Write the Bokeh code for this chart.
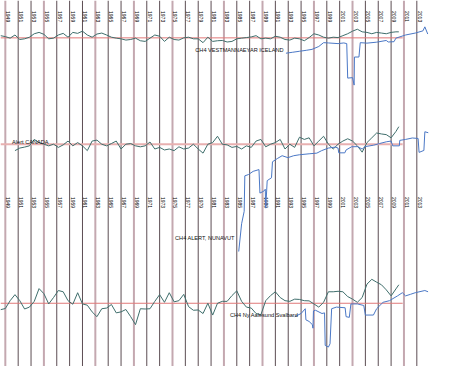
import math
from bokeh.plotting import figure
from bokeh.models import Range1d
from bokeh.core.properties import value
from bokeh.embed import file_html
from bokeh.resources import INLINE

# ---------------- data ----------------
grid_years = list(range(1949, 2014, 2))
light_years = [1949, 1955, 1963, 1969, 1975, 1983, 1989, 1997, 2003, 2011]
year_labels = [str(y) for y in grid_years]

# common sampling of the smoothed anomaly curves (decimal years)
teal_years = [1948.25, 1949.00, 1949.75, 1950.50, 1951.25, 1952.00, 1952.75, 1953.50, 1954.25, 1955.00,
              1955.75, 1956.50, 1957.25, 1958.00, 1958.75, 1959.50, 1960.25, 1961.00, 1961.75, 1962.50,
              1963.25, 1964.00, 1964.75, 1965.50, 1966.25, 1967.00, 1967.75, 1968.50, 1969.25, 1970.00,
              1970.75, 1971.50, 1972.25, 1973.00, 1973.75, 1974.50, 1975.25, 1976.00, 1976.75, 1977.50,
              1978.25, 1979.00, 1979.75, 1980.50, 1981.25, 1982.00, 1982.75, 1983.50, 1984.25, 1985.00,
              1985.75, 1986.50, 1987.25, 1988.00, 1988.75, 1989.50, 1990.25, 1991.00, 1991.75, 1992.50,
              1993.25, 1994.00, 1994.75, 1995.50, 1996.25, 1997.00, 1997.75, 1998.50, 1999.25, 2000.00,
              2000.75, 2001.50, 2002.25, 2003.00, 2003.75, 2004.50, 2005.25, 2006.00, 2006.75, 2007.50,
              2008.25, 2009.00, 2009.75, 2010.20]

iceland_anom = [2.3, 1.3, -0.3, 3, -1.7, -1, 0.7, 4.3, 5.7, 3.7,
                -1, -0.3, 3, 4.7, 0.7, 5.7, 4.7, 7, 3, 0.7,
                4, 5, 3, 0.7, -0.3, -1, -2.3, -1.7, -0.3, -3,
                -3.7, -0.3, 3, 1.7, -3.7, 0.7, -1.7, -2.3, 0, 0.7,
                -1, -1, -5, 0.7, -3.7, -3, -2.7, -4.3, -3.7, -1,
                -0.3, 0.3, 1, 2.3, -1, -0.3, -1, 1.7, 0.7, -1.7,
                -2.3, -0.3, -1, -3, 0.3, 4.3, 3, 0.7, -0.3, 0.7,
                0.3, 2.3, 4.3, 7, 9, 6.3, 5.7, 4.3, 5.7, 5,
                4.3, 5.7, 6.3, 6.3]

nan = float("nan")
alert_anom = [nan, nan, nan, -6.7, -4, -3, -1.7, 5, 1.7, 0,
              -1.7, 0, -3.3, -0.7, 3.3, -1.7, 1.7, -1.7, -6.7, 3.3,
              4.3, 0, -1.7, 0.7, 3.3, -5, 0, 0.7, -1.7, -2.7,
              -1.7, 2.3, -5, -3.3, -6, -5, -6.7, -2.7, -5, -4,
              0, -5, -9.3, 0, 1.7, 8.3, 0, -0.7, -3.3, -2.3,
              -5, -1.7, -3.3, 3.3, 5, -2.7, 0, 1.7, 5, -5,
              0, -3.3, 7.3, 5, 6.7, -1.7, 3.3, 8.3, 0, -5,
              0, 3.3, 5.7, 3.3, -1.7, -8.3, 1.7, 6.7, 11.7, 10.7,
              10, 6.7, 13.3, 18.3]

svalbard_anom = [-6.7, -5.5, 2.7, 9, 2.7, -6, -4, 2, 15.3, 10,
                 -0.7, 6, 13.3, 12, 2.7, -1, 11, -0.7, -2, -9,
                 -14, -5.7, -5, -1.3, -10, -9, -6.5, -14, -22.3, -5.7,
                 -6, -5.7, 2, 9, 1, 11, 1.5, 2.7, 9.3, -3.5,
                 -7.3, -7, -10.7, 0, -12.3, 0, 2, 2, 8, 13,
                 2, -4, -5, -10.7, -12, 2.7, 8, 12, 6, 2.7,
                 2, 4.3, 4, 2.7, 2.5, -0.7, -4, 1, 12, 12,
                 12.5, 12, 7, 4.3, 1, 6, 20, 25, 22, 19.3,
                 14, 7.7, 15, 19.3]

# CH4 station records (same arbitrary vertical units)
ch4_iceland_years = [1992.65, 1993.70, 1994.75, 1995.80, 1996.70, 1997.75, 1998.50, 1999.25, 2000.75, 2001.65,
                     2002.10, 2002.25, 2003.00, 2003.25, 2003.30, 2004.00, 2004.20, 2005.25, 2006.75, 2008.25,
                     2008.55, 2009.45, 2009.75, 2011.25, 2012.75, 2013.95, 2014.25, 2014.70]
ch4_iceland = [-16, -15, -14, -13, -12, -9, -5, -5.3, -6, -5.3,
               -6, -42, -41.5, -49.3, -20, -20, -5, -5.5, -4.5, -2.7,
               -4.3, -4, -0.3, 3, 5, 7.3, 11.5, 4]

ch4_alert_years = [1985.30, 1985.75, 1986.15, 1986.25, 1986.80, 1987.55, 1988.45, 1988.60, 1989.20, 1989.43,
                   1989.50, 1989.73, 1990.40, 1990.55, 1991.30, 1992.05, 1992.95, 1993.85, 1994.75, 1996.25,
                   1997.45, 1998.20, 1999.25, 2000.30, 2000.75, 2000.86, 2001.80, 2002.00, 2002.85, 2003.75,
                   2004.50, 2004.95, 2006.30, 2007.20, 2008.25, 2009.00, 2009.25, 2010.28, 2010.35, 2011.25,
                   2012.30, 2013.20, 2013.35, 2014.10, 2014.25, 2014.78]
ch4_alert = [-112, -83, -70, -33, -31.7, -28.3, -26.5, -51, -49, -47,
             -66.7, -38, -35, -18.3, -15, -12, -14, -12, -11, -10,
             -9.3, -6.7, -4, -3, -4, -9, -9, -6, -2.7, -2.5,
             -5, -2.5, -1, 0.7, 2.5, 3.3, -1.7, -1.7, 4, 5,
             6.5, 6, -8.5, -6.5, 13, 12]

ch4_svalbard_years = [1994.00, 1995.00, 1995.65, 1995.75, 1996.25, 1996.75, 1996.85, 1996.93, 1997.25, 1998.25,
                      1998.65, 1998.75, 1999.25, 1999.50, 1999.75, 2000.50, 2001.85, 2002.00, 2002.50, 2002.75,
                      2003.75, 2004.75, 2005.00, 2006.25, 2006.75, 2007.75, 2008.75, 2010.00, 2010.75, 2011.25,
                      2012.00, 2012.75, 2014.25, 2014.75]
ch4_svalbard = [-14, -10.7, -5.7, -17.3, -19, -22.3, -26, -8, -7.3, -10.7,
                -10, -44, -45.7, -42.3, -5.7, -4, -4.7, -14, -14.7, -0.7,
                -0.7, -2.3, -12.3, -12.3, -5.7, 1, 2.7, 7.7, 11, 7.7,
                9.3, 11, 13.3, 12]

panel_labels = ["CH4 VESTMANNAEYAR ICELAND", "Alert CANADA", "CH4 ALERT, NUNAVUT", "CH4 Ny Aalesund Svalbard"]

# ---------------- layout (plot units) ----------------
X0, X1 = 1948.25, 2015.75
baseline_end = 2010.8
base_top, base_mid, base_bot = 39, 150, 316

p = figure(width=434, height=366, output_backend="svg", toolbar_location=None,
           x_range=Range1d(X0, X1), y_range=Range1d(382, 0), min_border=0)
p.xaxis.visible = False
p.yaxis.visible = False
p.xgrid.visible = False
p.ygrid.visible = False
p.outline_line_color = None
p.background_fill_color = "white"

# vertical year grid
dark = [y for y in grid_years if y not in light_years]
p.segment(x0=dark, y0=[0] * len(dark), x1=dark, y1=[382] * len(dark),
          line_color="#5c4d53", line_width=1)
p.segment(x0=light_years, y0=[0] * len(light_years), x1=light_years, y1=[382] * len(light_years),
          line_color="#c4a8b0", line_width=2)

# year labels (two rows)
for ytop in (11, 205):
    p.text(x=grid_years, y=[ytop] * len(grid_years), text=year_labels, angle=-math.pi / 2,
           x_offset=1, text_align="left", text_baseline="bottom",
           text_font=value("Liberation Sans"), text_font_size="5px", text_color="#000000")

# baselines
p.segment(x0=[X0, X0], y0=[base_top, base_bot], x1=[baseline_end, baseline_end], y1=[base_top, base_bot],
          line_color="#e07878", line_width=1)
p.segment(x0=[X0], y0=[base_mid], x1=[baseline_end], y1=[base_mid],
          line_color="#e8b0b0", line_width=2)

teal = "#3f6e6c"
blue = "#4b78c6"

p.line(teal_years, [base_top - v for v in iceland_anom], line_color=teal, line_width=1)
p.line(teal_years, [base_mid - v for v in alert_anom], line_color=teal, line_width=1)
p.line(teal_years, [base_bot - v for v in svalbard_anom], line_color=teal, line_width=1)

p.line(ch4_iceland_years, [base_top - v for v in ch4_iceland], line_color=blue, line_width=1)
p.line(ch4_alert_years, [base_mid - v for v in ch4_alert], line_color=blue, line_width=1)
p.line(ch4_svalbard_years, [base_bot - v for v in ch4_svalbard], line_color=blue, line_width=1)

# station labels
p.text(x=[1978.55, 1950.05, 1975.4, 1983.95], y=[52, 148, 248, 328], text=panel_labels,
       text_align="left", text_baseline="middle",
       text_font=value("Liberation Sans"), text_font_size="5.6px", text_color="#111111")

open("out.html", "w").write(file_html(p, INLINE))
